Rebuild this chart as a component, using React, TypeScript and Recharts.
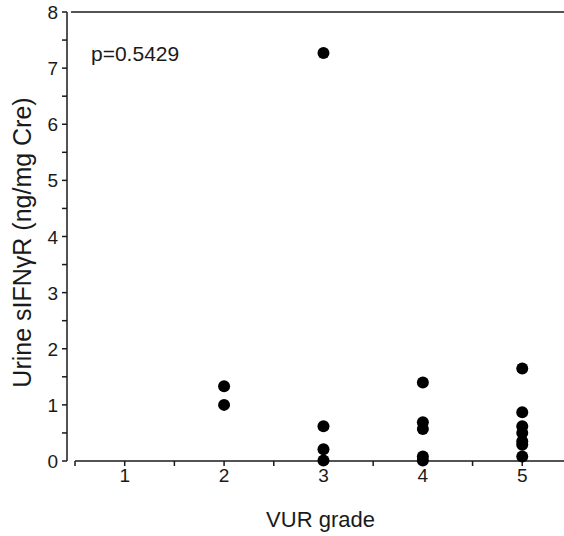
import React from "react";
import {
  ScatterChart,
  Scatter,
  XAxis,
  YAxis,
  ReferenceLine,
  Label,
} from "recharts";

// values, grouped by VUR grade
const gradeTwo = [1.33, 1.0];
const gradeThree = [7.27, 0.62, 0.21, 0.01];
const gradeFour = [1.4, 0.69, 0.57, 0.08, 0.01];
const gradeFive = [1.65, 0.87, 0.62, 0.5, 0.35, 0.29, 0.08];

const xTicks = [0.5, 1, 1.5, 2, 2.5, 3, 3.5, 4, 4.5, 5];
const yTicks = [0, 0.5, 1, 1.5, 2, 2.5, 3, 3.5, 4, 4.5, 5, 5.5, 6, 6.5, 7, 7.5, 8];

const pValue = "p=0.5429";

const FONT = '"Liberation Sans", Arial, sans-serif';
const INK = "#1a1a1a";

const points = [
  ...gradeTwo.map((v) => ({ grade: 2, value: v })),
  ...gradeThree.map((v) => ({ grade: 3, value: v })),
  ...gradeFour.map((v) => ({ grade: 4, value: v })),
  ...gradeFive.map((v) => ({ grade: 5, value: v })),
];

function XTick(props: any) {
  const { x, y, payload } = props;
  if (!Number.isInteger(payload.value)) return null;
  return (
    <text x={x} y={y + 14} textAnchor="middle" fontSize={19} fontFamily={FONT} fill={INK}>
      {payload.value}
    </text>
  );
}

function YTick(props: any) {
  const { x, y, payload } = props;
  if (!Number.isInteger(payload.value)) return null;
  return (
    <text x={x} y={y + 7} textAnchor="end" fontSize={19} fontFamily={FONT} fill={INK}>
      {payload.value}
    </text>
  );
}

function Dot(props: any) {
  const { cx, cy } = props;
  return <circle cx={cx} cy={cy} r={6} fill="#000" />;
}

export default function App() {
  return (
    <div
      style={{
        position: "absolute",
        left: 0,
        top: 0,
        width: 564,
        height: 536,
        background: "#fff",
      }}
    >
      <ScatterChart
        width={564}
        height={536}
        margin={{ top: 12, right: 0, bottom: 0, left: 0 }}
      >
        <XAxis
          type="number"
          dataKey="grade"
          domain={[0.5, 5.42]}
          ticks={xTicks}
          padding={{ left: 8, right: 0 }}
          axisLine={false}
          tickLine={{ stroke: INK, strokeWidth: 1.5 }}
          tickSize={5}
          tick={<XTick />}
          height={75}
          allowDataOverflow
        >
          <Label
            content={(p: any) => {
              const vb = p.viewBox;
              return (
                <text
                  x={vb.x + vb.width / 2 + 5}
                  y={527}
                  textAnchor="middle"
                  fontSize={22}
                  fontFamily={FONT}
                  fill={INK}
                >
                  VUR grade
                </text>
              );
            }}
          />
        </XAxis>
        <YAxis
          type="number"
          dataKey="value"
          domain={[0, 8]}
          ticks={yTicks}
          width={67}
          axisLine={{ stroke: INK, strokeWidth: 1.5 }}
          tickLine={{ stroke: INK, strokeWidth: 1.5 }}
          tickSize={5}
          tickMargin={4}
          tick={<YTick />}
        >
          <Label
            content={(p: any) => {
              const vb = p.viewBox;
              const cx = vb.x + 22;
              const cy = vb.y + vb.height / 2 + 6;
              return (
                <text
                  x={cx}
                  y={cy}
                  transform={`rotate(-90 ${cx} ${cy})`}
                  textAnchor="middle"
                  dominantBaseline="central"
                  fontSize={25}
                  fontFamily={FONT}
                  fill={INK}
                >
                  Urine sIFNγR (ng/mg Cre)
                </text>
              );
            }}
          />
        </YAxis>
        <ReferenceLine
          segment={[
            { x: 0.46, y: 8 },
            { x: 5.42, y: 8 },
          ]}
          ifOverflow="visible"
          stroke={INK}
          strokeWidth={1.5}
        />
        <ReferenceLine
          segment={[
            { x: 0.5, y: 0 },
            { x: 5.42, y: 0 },
          ]}
          stroke={INK}
          strokeWidth={1.5}
        />
        <ReferenceLine
          y={7.5}
          stroke="none"
          label={(p: any) => (
            <text
              x={91}
              y={p.viewBox.y + 21}
              fontSize={21}
              fontFamily={FONT}
              fill={INK}
            >
              {pValue}
            </text>
          )}
        />
        <Scatter data={points} shape={<Dot />} isAnimationActive={false} />
      </ScatterChart>
    </div>
  );
}
